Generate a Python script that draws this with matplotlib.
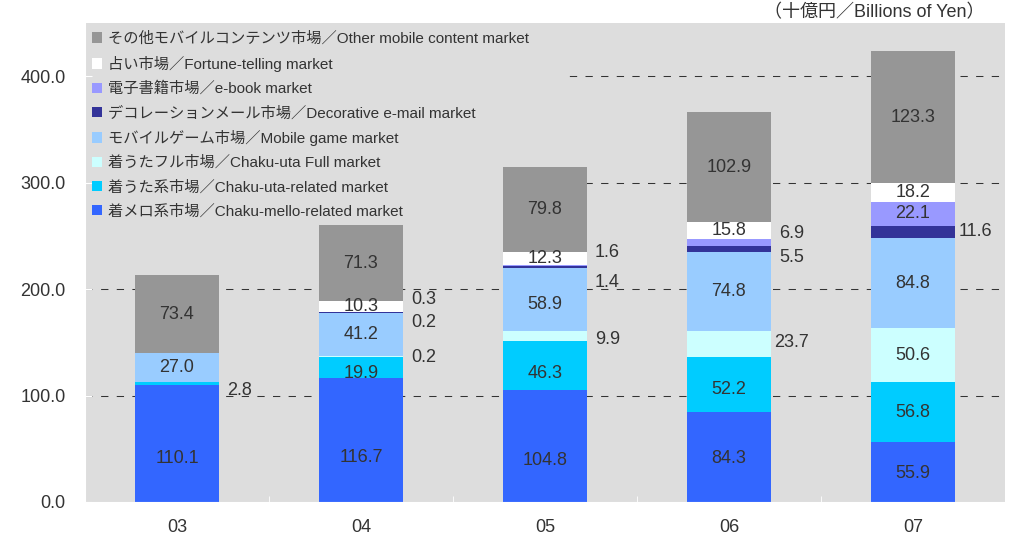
import matplotlib
matplotlib.use("Agg")
import matplotlib.pyplot as plt
from matplotlib.patches import Patch, Rectangle
import numpy as np

plt.rcParams['font.family'] = ['Liberation Sans', 'Noto Sans CJK JP', 'DejaVu Sans']

# ---------------- data ----------------
years = ["03", "04", "05", "06", "07"]
chaku_mello = [110.1, 116.7, 104.8, 84.3, 55.9]
chaku_uta = [2.8, 19.9, 46.3, 52.2, 56.8]
chaku_uta_full = [0.0, 0.2, 9.9, 23.7, 50.6]
mobile_game = [27.0, 41.2, 58.9, 74.8, 84.8]
deco_mail = [0.0, 0.2, 1.4, 5.5, 11.6]
ebook = [0.0, 0.3, 1.6, 6.9, 22.1]
fortune = [0.0, 10.3, 12.3, 15.8, 18.2]
other = [73.4, 71.3, 79.8, 102.9, 123.3]

series_names = [
    "着メロ系市場／Chaku-mello-related market",
    "着うた系市場／Chaku-uta-related market",
    "着うたフル市場／Chaku-uta Full market",
    "モバイルゲーム市場／Mobile game market",
    "デコレーションメール市場／Decorative e-mail market",
    "電子書籍市場／e-book market",
    "占い市場／Fortune-telling market",
    "その他モバイルコンテンツ市場／Other mobile content market",
]
series_values = [chaku_mello, chaku_uta, chaku_uta_full, mobile_game,
                 deco_mail, ebook, fortune, other]
colors = ["#3366FF", "#00CCFF", "#CCFFFF", "#99CCFF",
          "#333399", "#9999FF", "#FFFFFF", "#969696"]

# label style: which labels sit outside the bar, and small vertical nudges (data units)
outside = {(1, 0), (2, 1), (4, 1), (5, 1), (2, 2), (4, 2), (5, 2),
           (2, 3), (4, 3), (5, 3), (4, 4)}
nudge = {(1, 0): -6.6, (5, 1): 12, (4, 1): -9.5, (2, 1): -1,
         (5, 2): 12, (4, 2): -14.6, (2, 2): -3.4,
         (5, 3): 8, (4, 3): -8, (2, 3): 1.5,
         (0, 0): -13.8, (0, 1): -17, (0, 2): -13.4, (0, 3): -1, (0, 4): -1,
         (1, 1): -6, (1, 2): -7, (1, 3): -4.5, (3, 2): -5}

text_color = "#333333"
bg = "#DDDDDD"

fig = plt.figure(figsize=(10.29, 5.40), dpi=100)
ax = fig.add_axes([85 / 1029, 38 / 540, 920 / 1029, 479 / 540])
ax.set_facecolor(bg)

x = np.arange(len(years))
width = 0.457
bottom = np.zeros(len(years))
for si, (vals, col) in enumerate(zip(series_values, colors)):
    vals = np.array(vals)
    ax.bar(x, vals, width, bottom=bottom, color=col, linewidth=0, zorder=2,
           label=series_names[si])
    for xi in range(len(years)):
        v = vals[xi]
        if v <= 0:
            continue
        ymid = bottom[xi] + v / 2 + nudge.get((si, xi), 0)
        xpos = x[xi] + 0.34 if (si, xi) in outside else x[xi]
        ax.text(xpos, ymid, f"{v:.1f}", ha="center", va="center",
                fontsize=13, color=text_color, zorder=5)
    bottom = bottom + vals

ax.set_xlim(-0.5, len(years) - 0.5)
ax.set_ylim(0, 450)

# grid
yt = [0, 100, 200, 300, 400]
for yv in yt[1:]:
    ax.axhline(yv, color="#333333", lw=0.75, ls=(0, (7, 8)), zorder=0.5)

# cover rectangle under legend
ax.add_patch(Rectangle((0, 0.585), 0.522, 0.415, transform=ax.transAxes,
                       facecolor=bg, edgecolor="none", zorder=1))

ax.set_yticks(yt)
ax.set_yticklabels([f"{v:.1f}" for v in yt], fontsize=13, color=text_color)
ax.set_xticks(x)
ax.set_xticklabels(years, fontsize=13, color=text_color)
ax.set_xticks(np.arange(-0.5, len(years), 1.0), minor=True)
ax.tick_params(axis="y", direction="in", length=5, color="white", pad=14)
ax.tick_params(axis="x", which="major", length=0, pad=12)
ax.tick_params(axis="x", which="minor", direction="in", length=4, color="white")
for s in ["top", "right"]:
    ax.spines[s].set_visible(False)
for s in ["left", "bottom"]:
    ax.spines[s].set_color("white")
    ax.spines[s].set_linewidth(0.8)

handles = [Patch(facecolor=c, edgecolor="none") for c in colors][::-1]
labels = series_names[::-1]
leg = ax.legend(handles, labels, loc="upper left", bbox_to_anchor=(0.0076, 0.982),
                frameon=False, fontsize=11, handlelength=0.68, handleheight=0.68,
                handletextpad=0.4, labelspacing=0.64, borderaxespad=0, borderpad=0)
for t in leg.get_texts():
    t.set_color(text_color)
leg.set_zorder(6)

fig.text(984 / 1029, 1 - 13 / 540, "（十億円／Billions of Yen）", ha="right", va="center",
         fontsize=13, color=text_color)

fig.savefig("out.png", dpi=100, facecolor="white")
